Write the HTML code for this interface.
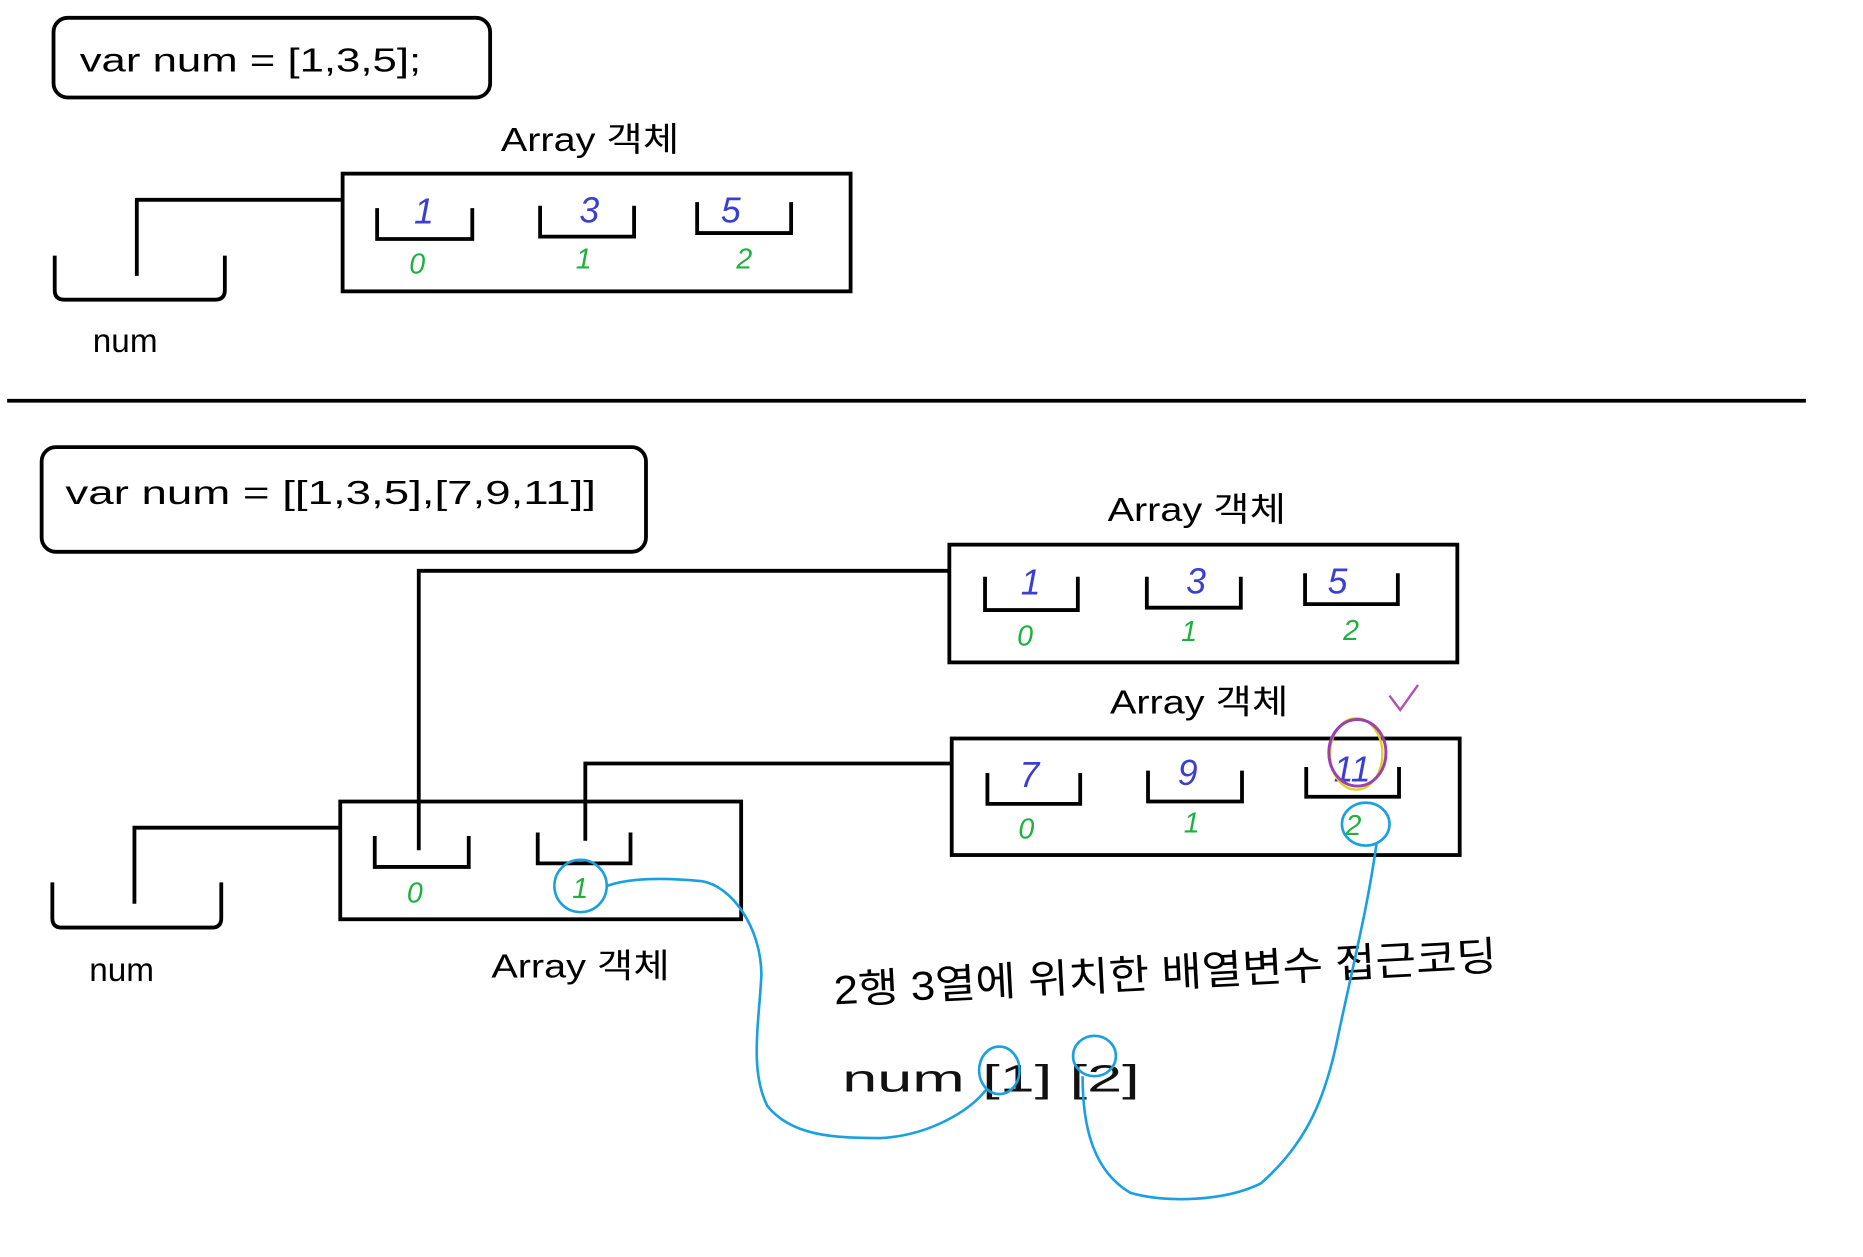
<!DOCTYPE html>
<html><head><meta charset="utf-8">
<style>
html,body{margin:0;padding:0;background:#fff;}
svg{display:block;}
text{font-family:"Liberation Sans","Noto Sans CJK KR","NanumGothic",sans-serif;}
.hw{font-family:"NanumGothic","Noto Sans CJK KR",sans-serif;}
</style></head>
<body>
<svg width="1863" height="1257" viewBox="0 0 1566 1057" preserveAspectRatio="none" xmlns="http://www.w3.org/2000/svg">
<rect width="1566" height="1057" fill="#fff"/>
<g fill="none" stroke="#000" stroke-width="3.2">
<rect x="45" y="15" width="367" height="67" rx="12"/>
<rect x="288" y="146" width="427" height="99"/>
<path d="M115,232 V168 H288"/>
<path d="M46,215 V244 Q46,252 54,252 H181 Q189,252 189,244 V215"/>
<path d="M317,175 V201 H397 V175"/>
<path d="M454,173 V199 H533 V173"/>
<path d="M586,170 V196 H665 V170"/>
<line x1="6" y1="337" x2="1518" y2="337"/>
<rect x="35" y="376" width="508" height="88" rx="12"/>
<rect x="798" y="458" width="427" height="99"/>
<path d="M828,485 V513 H906 V485"/>
<path d="M964,485 V511 H1043 V485"/>
<path d="M1097,482 V508 H1175 V482"/>
<rect x="800" y="621" width="427" height="98"/>
<path d="M830,650 V676 H908 V650"/>
<path d="M965,648 V674 H1044 V648"/>
<path d="M1098,645 V670 H1176 V645"/>
<rect x="286" y="674" width="337" height="99"/>
<path d="M315,703 V729 H394 V703"/>
<path d="M452,700 V726 H530 V700"/>
<path d="M352,715 V480 H798"/>
<path d="M492,707 V642 H800"/>
<path d="M44,742 V772 Q44,780 52,780 H178 Q186,780 186,772 V742"/>
<path d="M113,760 V696 H286"/>
</g>
<g font-size="28" fill="#000">
<text x="67" y="60" textLength="287" lengthAdjust="spacingAndGlyphs">var num = [1,3,5];</text>
<text x="421" y="127" textLength="150" lengthAdjust="spacingAndGlyphs">Array 객체</text>
<text x="78" y="296">num</text>
<text x="55" y="424" textLength="446" lengthAdjust="spacingAndGlyphs">var num = [[1,3,5],[7,9,11]]</text>
<text x="931" y="438" textLength="150" lengthAdjust="spacingAndGlyphs">Array 객체</text>
<text x="933" y="600" textLength="150" lengthAdjust="spacingAndGlyphs">Array 객체</text>
<text x="75" y="825">num</text>
<text x="413" y="822" textLength="150" lengthAdjust="spacingAndGlyphs">Array 객체</text>
</g>
<g font-size="30" fill="#3a3fd0" font-style="italic">
<text x="348" y="188">1</text><text x="487" y="187">3</text><text x="606" y="187">5</text>
<text x="858" y="500">1</text><text x="997" y="499">3</text><text x="1116" y="499">5</text>
<text x="857" y="662">7</text><text x="990" y="660">9</text><text x="1121" y="657">11</text>
</g>
<g font-size="24" fill="#20b040" font-style="italic">
<text x="344" y="230">0</text><text x="484" y="226">1</text><text x="619" y="226">2</text>
<text x="855" y="543">0</text><text x="993" y="539">1</text><text x="1129" y="538">2</text>
<text x="856" y="705">0</text><text x="995" y="700">1</text><text x="1131" y="702">2</text>
<text x="342" y="759">0</text><text x="481" y="755">1</text>
</g>
<g class="hw" fill="#000">
<text x="700" y="830" font-size="34" textLength="558" lengthAdjust="spacingAndGlyphs" transform="rotate(-3 980 810)">2행 3열에 위치한 배열변수 접근코딩</text>
<text x="708" y="918" font-size="32" fill="#111" textLength="250" lengthAdjust="spacingAndGlyphs">num [1] [2]</text>
</g>
<g fill="none" stroke="#1aa0e0" stroke-width="2.2">
<ellipse cx="488" cy="745" rx="22" ry="22"/>
<path d="M510,745 C530,738 560,738 590,741 C615,745 640,780 640,820 C638,860 630,900 645,930 C665,955 700,957 740,957 C780,955 815,935 830,915"/>
<ellipse cx="840" cy="900" rx="17" ry="20"/>
<ellipse cx="920" cy="888" rx="18" ry="17"/>
<path d="M910,905 C910,950 920,985 950,1003 C980,1012 1030,1010 1060,995 C1100,960 1115,920 1125,870 C1140,800 1150,760 1157,710"/>
<ellipse cx="1148" cy="693" rx="20" ry="18"/>
</g>
<ellipse cx="1140" cy="634" rx="22" ry="30" fill="none" stroke="#e0d020" stroke-width="2"/>
<ellipse cx="1141" cy="633" rx="24" ry="28" fill="none" stroke="#9a40b0" stroke-width="2.5"/>
<path d="M1168,585 L1177,597 L1192,576" fill="none" stroke="#b050b0" stroke-width="2"/>
</svg>
</body></html>
